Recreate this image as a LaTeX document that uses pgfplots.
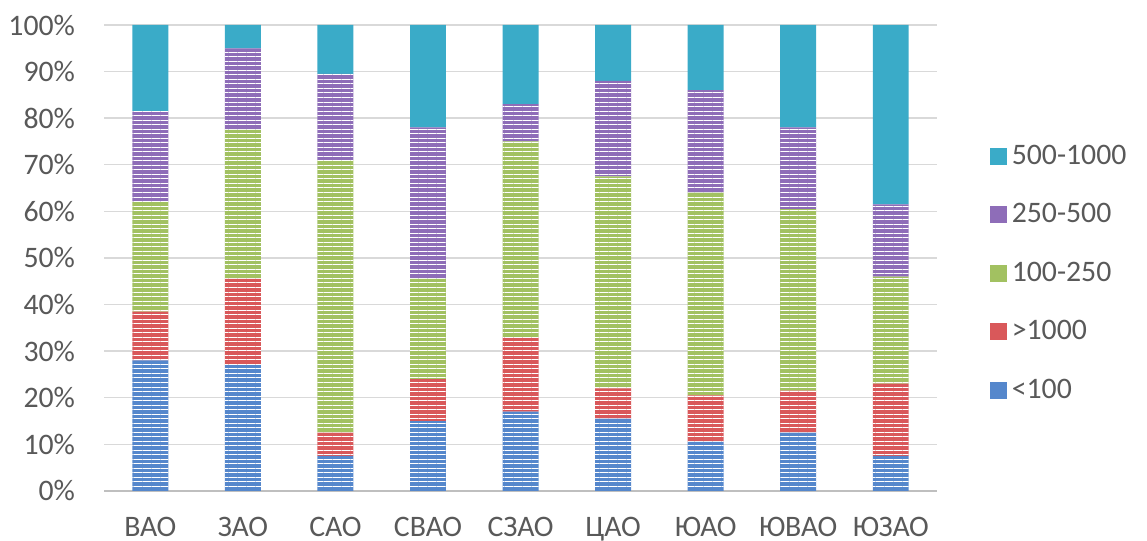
\documentclass[border=0pt]{standalone}
\usepackage{fontspec}
\setmainfont{Carlito}
\usepackage{pgfplots}
\usepackage{pgfplotstable}
\pgfplotsset{compat=1.18}
\usetikzlibrary{patterns.meta}

\definecolor{cBlue}{HTML}{5587CC}
\definecolor{cRed}{HTML}{D9585A}
\definecolor{cGreen}{HTML}{A2C161}
\definecolor{cPurple}{HTML}{8E6DB8}
\definecolor{cTeal}{HTML}{3AABC8}
\definecolor{gridc}{HTML}{D9D9D9}
\definecolor{axisc}{HTML}{BFBFBF}
\definecolor{textc}{HTML}{595959}

% share of each size group per district, percent
\pgfplotstableread{
x  lt100  gt1000  g100  g250  g500
0  28.0   10.5    23.5  19.5  18.5
1  27.0   18.5    32.0  17.5   5.0
2   7.5    5.0    58.5  18.5  10.5
3  15.0    9.0    21.5  32.5  22.0
4  17.0   16.0    42.0   8.0  17.0
5  15.5    6.5    45.5  20.5  12.0
6  10.5   10.0    43.5  22.0  14.0
7  12.5    9.0    39.0  17.5  22.0
8   7.5   15.5    23.0  15.5  38.5
}\datatable

\tikzset{stripes/.style={postaction={pattern={Lines[angle=0,distance=1.9pt,line width=0.4pt]},pattern color=white,fill opacity=0.3}}}

\begin{document}
\begin{tikzpicture}
\begin{axis}[
  name=a,
  scale only axis,
  width=349.9pt, height=195.7pt,
  ybar stacked,
  bar width=15.1pt,
  xmin=-0.5, xmax=8.5,
  ymin=0, ymax=100,
  xtick=data,
  xticklabels={ВАО,ЗАО,САО,СВАО,СЗАО,ЦАО,ЮАО,ЮВАО,ЮЗАО},
  ytick={0,10,...,100},
  yticklabels={0\%,10\%,20\%,30\%,40\%,50\%,60\%,70\%,80\%,90\%,100\%},
  major tick length=0pt,
  ymajorgrids,
  grid style={gridc, line width=0.6pt},
  axis x line*=bottom,
  axis y line*=left,
  y axis line style={draw=none},
  x axis line style={axisc, line width=1pt, -},
  tick label style={font=\fontsize{12.5}{14}\selectfont, text=textc},
  yticklabel style={anchor=east, inner sep=0pt, xshift=-12pt},
  xticklabel style={anchor=base, inner sep=0pt, yshift=-19pt},
  legend style={at={(1,0.467)}, anchor=west, xshift=22pt, draw=none, fill=none,
    inner sep=0pt, row sep=11pt, font=\fontsize{12.5}{14}\selectfont, text=textc,
    /tikz/every even column/.append style={column sep=1pt}},
  legend cell align=left,
  legend image code/.code={\fill[#1] (0pt,-3.6pt) rectangle (7.2pt,3.6pt);},
]
\addplot[fill=cBlue, draw=none, stripes, forget plot] table[x=x, y=lt100] {\datatable};
\addplot[fill=cRed, draw=none, stripes, forget plot] table[x=x, y=gt1000] {\datatable};
\addplot[fill=cGreen, draw=none, stripes, forget plot] table[x=x, y=g100] {\datatable};
\addplot[fill=cPurple, draw=none, stripes, forget plot] table[x=x, y=g250] {\datatable};
\addplot[fill=cTeal, draw=none, forget plot] table[x=x, y=g500] {\datatable};
\addlegendimage{fill=cTeal, draw=none}
\addlegendentry{500-1000}
\addlegendimage{fill=cPurple, draw=none}
\addlegendentry{250-500}
\addlegendimage{fill=cGreen, draw=none}
\addlegendentry{100-250}
\addlegendimage{fill=cRed, draw=none}
\addlegendentry{>1000}
\addlegendimage{fill=cBlue, draw=none}
\addlegendentry{<100}
\end{axis}
\path ([shift={(-43.7pt,-20.2pt)}]a.south west) rectangle ([shift={(88.2pt,10.5pt)}]a.north east);
\end{tikzpicture}
\end{document}
